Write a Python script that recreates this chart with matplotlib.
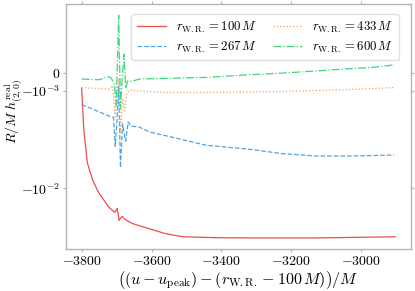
import numpy as np
import matplotlib
matplotlib.use("Agg")
import matplotlib.pyplot as plt

plt.rcParams['font.family'] = 'serif'
plt.rcParams['font.serif'] = ['cmr10', 'DejaVu Serif']
plt.rcParams['mathtext.fontset'] = 'cm'
plt.rcParams['axes.formatter.use_mathtext'] = True

# values (u shifted, R/M h real)
x_100 = [-3800, -3794, -3784, -3769, -3751, -3722, -3705, -3698, -3693, -3684,
         -3676, -3655, -3608, -3560, -3511, -3414, -3320, -3129, -2903]
y_100 = [-0.85e-3, -2.46e-3, -5.42e-3, -8.15e-3, -0.0111, -0.0156, -0.0176, -0.0160,
         -0.0213, -0.0193, -0.0208, -0.0229, -0.0258, -0.0291, -0.0313, -0.0320,
         -0.0322, -0.0322, -0.0313]

x_267 = [-3800, -3722, -3709, -3704, -3699, -3694, -3689, -3683, -3674, -3667,
         -3660, -3634, -3606, -3539, -3444, -3320, -3226, -3129, -3034, -2906]
y_267 = [-1.38e-3, -1.81e-3, -1.87e-3, -3.70e-3, -2.03e-3, -0.74e-3, -6.11e-3,
         -2.18e-3, -3.28e-3, -2.08e-3, -2.29e-3, -2.36e-3, -2.64e-3, -3.0e-3,
         -3.61e-3, -3.97e-3, -4.40e-3, -4.66e-3, -4.66e-3, -4.55e-3]

x_433 = [-3800, -3722, -3711, -3704, -3699, -3693, -3689, -3683, -3677, -3671,
         -3663, -3634, -3560, -3444, -3253, -3063, -2906]
y_433 = [-0.82e-3, -0.90e-3, -0.71e-3, -1.84e-3, -1.06e-3, -0.29e-3, -2.77e-3,
         -1.20e-3, -1.60e-3, -1.06e-3, -0.97e-3, -1.0e-3, -1.04e-3, -1.04e-3,
         -1.02e-3, -0.95e-3, -0.82e-3]

x_600 = [-3800, -3749, -3725, -3715, -3706, -3701, -3694, -3689, -3684, -3679,
         -3674, -3668, -3658, -3634, -3444, -3320, -3253, -3129, -3063, -2969, -2906]
y_600 = [-0.34e-3, -0.38e-3, -0.19e-3, -0.29e-3, -0.69e-3, -1.41e-3, 2.56e-3,
         -1.52e-3, -0.29e-3, 1.02e-3, -0.86e-3, -0.44e-3, -0.47e-3, -0.34e-3,
         -0.25e-3, -0.10e-3, -0.04e-3, 0.11e-3, 0.20e-3, 0.31e-3, 0.45e-3]

x_ticks = [-3800, -3600, -3400, -3200, -3000]
y_ticks = [-1e-2, -1e-3, 0]

fig = plt.figure(figsize=(4.15, 2.91), dpi=100)
ax = fig.add_axes([0.159, 0.144, 0.831, 0.842])

ax.plot(x_100, y_100, color='#e8514a', lw=0.9, ls='-', label=r'$r_{\rm W.R.} = 100\,M$')
ax.plot(x_267, y_267, color='#4ea3e3', lw=0.9, ls='--', label=r'$r_{\rm W.R.} = 267\,M$')
ax.plot(x_433, y_433, color='#f4a062', lw=0.9, ls=':', label=r'$r_{\rm W.R.} = 433\,M$')
ax.plot(x_600, y_600, color='#3fd67c', lw=0.9, ls='-.', label=r'$r_{\rm W.R.} = 600\,M$')

ax.set_yscale('symlog', linthresh=1e-3, linscale=0.165)
ax.set_yticks(y_ticks)
ax.minorticks_off()
ax.set_xticks(x_ticks)

ax.set_xlabel(r'$\left((u-u_{\rm peak})-(r_{\rm W.R.}-100\,M)\right)/M$', fontsize=11.5, labelpad=1)
ax.set_ylabel(r'$R/M\;h^{\rm real}_{(2,0)}$', fontsize=10)
ax.yaxis.set_label_coords(-0.121, 0.56)

for s in ax.spines.values():
    s.set_color('#b4b4b4')
    s.set_linewidth(1.0)
ax.tick_params(which='both', direction='out', length=2.5, width=0.8, color='#b4b4b4',
               labelsize=10, top=True, right=True, pad=1.5)

ax.legend(loc='upper right', ncol=2, fontsize=9.2, frameon=True, fancybox=True,
          edgecolor='#e0e0e0', framealpha=1.0, handlelength=2.3, handletextpad=0.8,
          columnspacing=1.2, borderpad=0.45, labelspacing=0.35,
          bbox_to_anchor=(0.985, 0.985))

fig.savefig('out.png', dpi=100)
